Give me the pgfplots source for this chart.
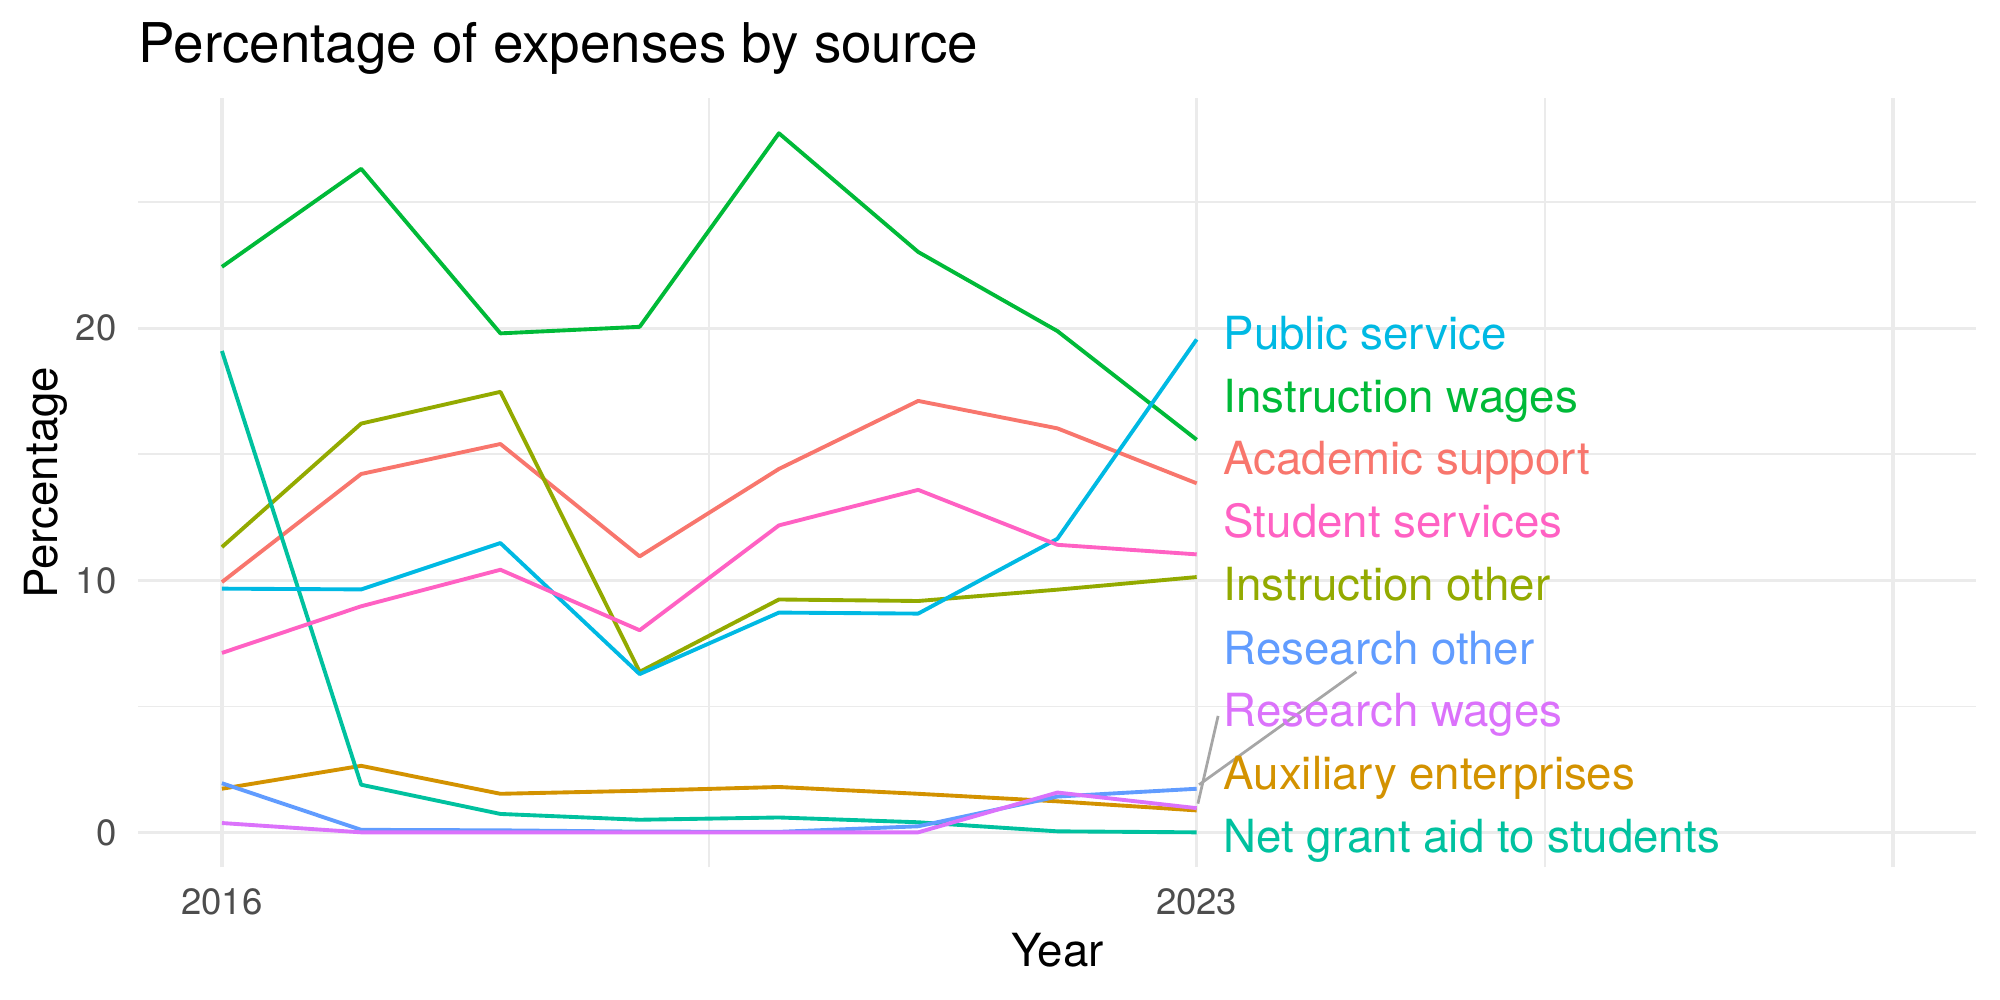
\documentclass[border=0pt]{standalone}
\usepackage{pgfplots}
\usepackage{pgfplotstable}
\pgfplotsset{compat=1.18}
\usepackage{fontspec}
\setmainfont{TeX Gyre Heros}

% ggplot2 hue palette, one colour per expense source
\definecolor{cAcad}{HTML}{F8766D}
\definecolor{cAux}{HTML}{D39200}
\definecolor{cInstOth}{HTML}{93AA00}
\definecolor{cInstWag}{HTML}{00BA38}
\definecolor{cNet}{HTML}{00C19F}
\definecolor{cPub}{HTML}{00B9E3}
\definecolor{cResOth}{HTML}{619CFF}
\definecolor{cResWag}{HTML}{DB72FB}
\definecolor{cStud}{HTML}{FF61C3}
\definecolor{gridgrey}{HTML}{EBEBEB}
\definecolor{ticktext}{HTML}{4D4D4D}
\definecolor{segment}{HTML}{A6A6A6}

% Percentage of expenses by source and year
\pgfplotstableread{
year acad aux instoth instwag netgrant pubserv resoth reswag stud
2016 9.93  1.73 11.32 22.44 19.10  9.67 1.95 0.37  7.12
2017 14.22 2.64 16.22 26.33  1.89  9.64 0.10 0.00  8.97
2018 15.41 1.53 17.48 19.80  0.73 11.48 0.08 0.00 10.42
2019 10.95 1.65  6.37 20.06  0.50  6.28 0.03 0.00  8.02
2020 14.42 1.80  9.24 27.74  0.59  8.72 0.02 0.00 12.18
2021 17.12 1.53  9.18 23.03  0.40  8.68 0.24 0.00 13.59
2022 16.03 1.23  9.63 19.89  0.04 11.65 1.42 1.58 11.41
2023 13.85 0.87 10.13 15.58  0.00 19.56 1.73 0.96 11.03
}\expenses

\begin{document}
\begin{tikzpicture}
\useasboundingbox (-50.0pt,-47.95pt) rectangle (672.7pt,313.4pt);
\begin{axis}[
  scale only axis,
  width=664.2pt, height=277.9pt,
  xmin=2015.4, xmax=2028.6,
  ymin=-1.387, ymax=29.13,
  clip=false,
  axis line style={draw=none},
  tick style={draw=none},
  major tick length=0pt, minor tick length=0pt,
  xtick={2016,2023,2028},
  xticklabels={2016,2023,{}},
  minor xtick={2019.5,2025.5},
  ytick={0,10,20},
  minor ytick={5,15,25},
  grid=both,
  major grid style={color=gridgrey, line width=1.2pt},
  minor grid style={color=gridgrey, line width=0.6pt},
  /pgf/number format/assume math mode=true,
  /pgf/number format/1000 sep={},
  xticklabel style={anchor=base, inner sep=0pt, yshift=-17pt,
    text=ticktext, font=\fontsize{13.2}{15}\selectfont},
  yticklabel style={anchor=east, inner sep=0pt, xshift=-7.7pt,
    text=ticktext, font=\fontsize{13.2}{15}\selectfont},
  title={Percentage of expenses by source},
  title style={at={(axis description cs:0,1)}, anchor=base west,
    inner sep=0pt, yshift=6.86pt, font=\fontsize{19.8}{23}\selectfont},
  xlabel={Year},
  xlabel style={at={(axis description cs:0.5,0)}, anchor=base,
    inner sep=0pt, yshift=-35.7pt, font=\fontsize{16.5}{19}\selectfont},
  ylabel={Percentage},
  ylabel style={at={(axis description cs:-0.04427,0.5)}, anchor=base,
    inner sep=0pt, font=\fontsize{16.5}{19}\selectfont},
  every axis plot/.append style={line width=1.4pt, line join=round, mark=none},
]
\addplot[cAcad]    table[x=year, y=acad]     {\expenses};
\addplot[cAux]     table[x=year, y=aux]      {\expenses};
\addplot[cInstOth] table[x=year, y=instoth]  {\expenses};
\addplot[cInstWag] table[x=year, y=instwag]  {\expenses};
\addplot[cNet]     table[x=year, y=netgrant] {\expenses};
\addplot[cPub]     table[x=year, y=pubserv]  {\expenses};
\addplot[cResOth]  table[x=year, y=resoth]   {\expenses};
\addplot[cResWag]  table[x=year, y=reswag]   {\expenses};
\addplot[cStud]    table[x=year, y=stud]     {\expenses};

% leader segments for the two crowded labels
\draw[segment, line width=1pt] (axis cs:2023.017,1.89) -- (axis cs:2024.147,6.37);
\draw[segment, line width=1pt] (axis cs:2023.009,1.14) -- (axis cs:2023.154,4.62);

% direct labels at the end of each series
\begin{scope}[every node/.style={anchor=base west, inner sep=0pt,
    font=\fontsize{16.5}{19}\selectfont}]
\node[text=cPub]     at (axis cs:2023.19,19.17) {Public service};
\node[text=cInstWag] at (axis cs:2023.19,16.66) {Instruction wages};
\node[text=cAcad]    at (axis cs:2023.19,14.18) {Academic support};
\node[text=cStud]    at (axis cs:2023.19,11.69) {Student services};
\node[text=cInstOth] at (axis cs:2023.19,9.21)  {Instruction other};
\node[text=cResOth]  at (axis cs:2023.19,6.68)  {Research other};
\node[text=cResWag]  at (axis cs:2023.19,4.19)  {Research wages};
\node[text=cAux]     at (axis cs:2023.19,1.72)  {Auxiliary enterprises};
\node[text=cNet]     at (axis cs:2023.19,-0.78) {Net grant aid to students};
\end{scope}
\end{axis}
\end{tikzpicture}
\end{document}
